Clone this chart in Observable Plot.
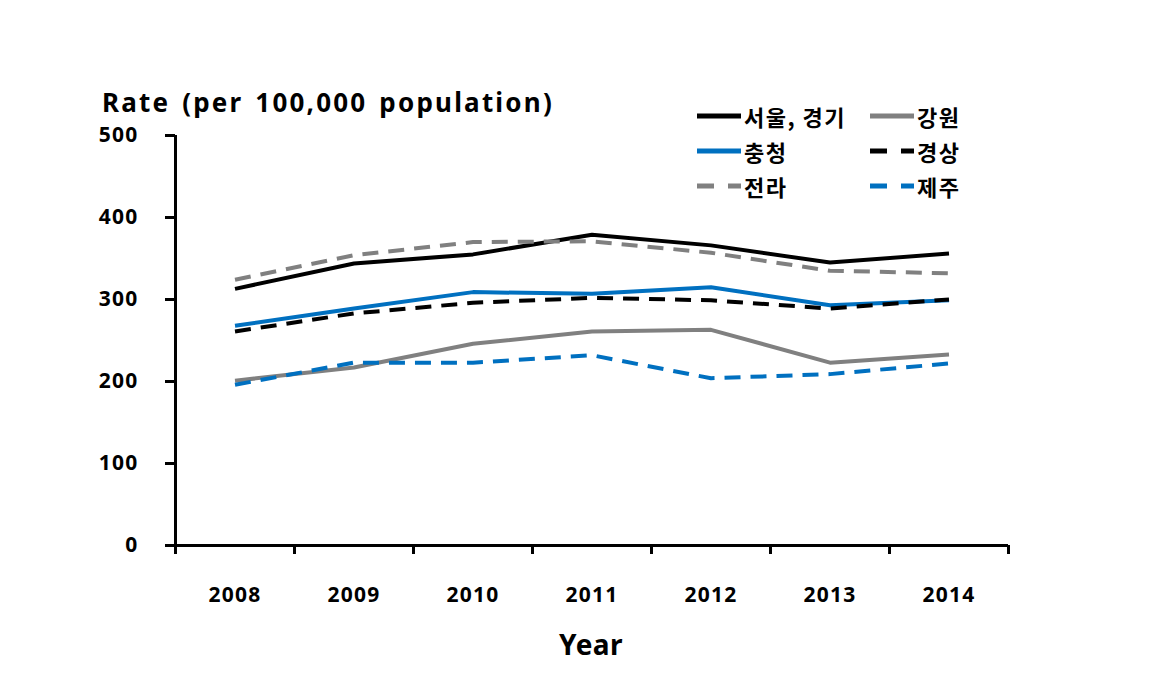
<!DOCTYPE html>
<html><head><meta charset="utf-8">
<script src="https://cdn.jsdelivr.net/npm/d3@7"></script>
<script src="https://cdn.jsdelivr.net/npm/@observablehq/plot@0.6"></script>
<style>
body{margin:0;background:#fff;}
#wrap{position:relative;width:1171px;height:682px;font-family:"Noto Sans CJK KR","Noto Sans",sans-serif;}
#ytitle{position:absolute;left:102px;top:87px;font-family:"Noto Sans",sans-serif;font-size:26px;line-height:30px;font-weight:700;letter-spacing:2.2px;word-spacing:3px;color:#000;white-space:nowrap;}
#xtitle{position:absolute;left:559px;top:628px;font-family:"Noto Sans",sans-serif;font-size:28px;line-height:32px;font-weight:700;letter-spacing:0.5px;color:#000;}
.leg{position:absolute;display:flex;align-items:center;font-size:22px;line-height:26px;font-weight:700;letter-spacing:1.5px;white-space:nowrap;}
.leg svg{margin-right:3px;}
svg text{letter-spacing:1.2px;}
</style></head>
<body><div id="wrap"><div id="chart"></div><div id="ytitle">Rate (per 100,000 population)</div><div id="xtitle">Year</div></div>
<script>
const years = [2008, 2009, 2010, 2011, 2012, 2013, 2014];
const seriesNames = ["서울, 경기", "강원", "충청", "경상", "전라", "제주"];
const seoulGyeonggi = [313, 344, 355, 379, 366, 345, 356];
const gangwon = [201, 217, 246, 261, 263, 223, 233];
const chungcheong = [268, 289, 309, 307, 315, 293, 299];
const gyeongsang = [261, 283, 296, 302, 299, 289, 300];
const jeolla = [324, 354, 370, 371, 357, 335, 332];
const jeju = [196, 223, 223, 232, 204, 209, 222];
const yTicks = [0, 100, 200, 300, 400, 500];

const valuesBySeries = [seoulGyeonggi, gangwon, chungcheong, gyeongsang, jeolla, jeju];
const styles = [
  {stroke: "#000000", dash: null},
  {stroke: "#808080", dash: null},
  {stroke: "#0070C0", dash: null},
  {stroke: "#000000", dash: "16,10"},
  {stroke: "#808080", dash: "16,10"},
  {stroke: "#0070C0", dash: "16,10"}
];
const boundaries = years.map(y => y - 0.5).concat([years[years.length - 1] + 0.5]);

const lineMarks = seriesNames.map((name, i) => Plot.line(
  years.map((y, j) => ({year: y, value: valuesBySeries[i][j]})),
  {x: "year", y: "value", stroke: styles[i].stroke, strokeWidth: 4,
   strokeDasharray: styles[i].dash, strokeLinejoin: "round", strokeLinecap: "butt"}
));

const chart = Plot.plot({
  width: 1171, height: 682,
  marginLeft: 175, marginRight: 163, marginTop: 135, marginBottom: 137,
  style: {fontFamily: '"Noto Sans",sans-serif', fontSize: "21px", fontWeight: 700, color: "#000", background: "transparent"},
  x: {type: "linear", domain: [boundaries[0], boundaries[boundaries.length - 1]]},
  y: {domain: [0, 500]},
  marks: [
    Plot.axisY({ticks: yTicks, tickSize: 10, tickPadding: 27, strokeWidth: 3, label: null, tickFormat: d => String(d)}),
    Plot.axisX({ticks: boundaries, tickSize: 9, strokeWidth: 3, tickFormat: () => "", label: null}),
    Plot.axisX({ticks: years, tickSize: 0, tickPadding: 42, tickFormat: d => String(d), label: null}),
    ...lineMarks,
    Plot.ruleX([boundaries[0]], {strokeWidth: 3, y1: 0, y2: 500}),
    Plot.ruleY([0], {strokeWidth: 3})
  ]
});
document.getElementById("chart").appendChild(chart);

// legend
const wrap = document.getElementById("wrap");
const legPos = [[697, 103], [870, 103], [697, 138], [870, 138], [697, 173], [870, 173]];
seriesNames.forEach((name, i) => {
  const d = document.createElement("div");
  d.className = "leg";
  d.style.left = legPos[i][0] + "px";
  d.style.top = legPos[i][1] + "px";
  const dash = styles[i].dash ? 'stroke-dasharray="17,14"' : "";
  d.innerHTML = `<svg width="44" height="8"><line x1="0" y1="4" x2="44" y2="4" stroke="${styles[i].stroke}" stroke-width="5" ${dash}/></svg><span>${name}</span>`;
  wrap.appendChild(d);
});
</script></body></html>
